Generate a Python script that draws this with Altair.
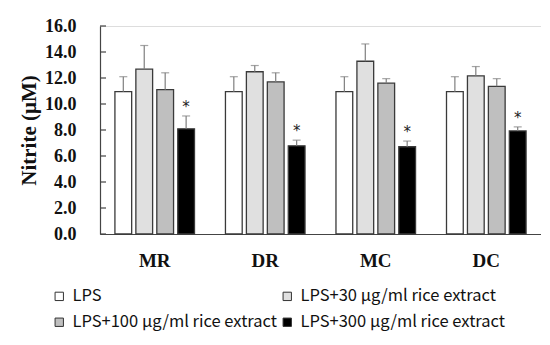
import altair as alt
import pandas as pd

groups = ["MR", "DR", "MC", "DC"]
treatments = ["LPS", "LPS+30 μg/ml rice extract", "LPS+100 μg/ml rice extract", "LPS+300 μg/ml rice extract"]
colors = ["#ffffff", "#e0e0e0", "#bfbfbf", "#000000"]
# legend reads row by row: LPS, LPS+30 / LPS+100, LPS+300 (grid is filled column-wise)
legend_order = [0, 2, 1, 3]

means = {
    "LPS": [10.95, 10.95, 10.95, 10.95],
    "LPS+30 μg/ml rice extract": [12.68, 12.48, 13.29, 12.17],
    "LPS+100 μg/ml rice extract": [11.1, 11.7, 11.6, 11.36],
    "LPS+300 μg/ml rice extract": [8.09, 6.78, 6.71, 7.93],
}
err_top = {
    "LPS": [12.1, 12.1, 12.1, 12.1],
    "LPS+30 μg/ml rice extract": [14.5, 12.96, 14.62, 12.88],
    "LPS+100 μg/ml rice extract": [12.4, 12.4, 11.95, 11.95],
    "LPS+300 μg/ml rice extract": [9.08, 7.22, 7.15, 8.24],
}
stars = {
    "LPS": ["", "", "", ""],
    "LPS+30 μg/ml rice extract": ["", "", "", ""],
    "LPS+100 μg/ml rice extract": ["", "", "", ""],
    "LPS+300 μg/ml rice extract": ["*", "*", "*", "*"],
}
y_ticks = [0, 2, 4, 6, 8, 10, 12, 14, 16]

rows = []
for t in treatments:
    for i, g in enumerate(groups):
        rows.append({"group": g, "treatment": t, "mean": means[t][i],
                     "top": err_top[t][i], "star": stars[t][i]})
df = pd.DataFrame(rows)
tick_df = pd.DataFrame({"v": y_ticks})

serif = "Liberation Serif"
x_axis = alt.Axis(labelAngle=0, ticks=False, tickSize=0, labelFont=serif,
                  labelFontWeight="bold", labelFontSize=19, labelColor="#111",
                  labelPadding=17, domainColor="#444", domainWidth=1.2)
x_scale = alt.Scale(paddingInner=0.28, paddingOuter=0.135)
y_axis = alt.Axis(values=y_ticks, format=".1f", ticks=False, tickSize=0, grid=False,
                  labelOverlap=False, labelBound=False,
                  labelFont=serif, labelFontWeight="bold", labelFontSize=18,
                  labelColor="#111", labelPadding=24, title="Nitrite (μM)",
                  titleFont=serif, titleFontWeight="bold", titleFontSize=21,
                  titleColor="#111", titlePadding=5,
                  domainColor="#444", domainWidth=1.2)
y_scale = alt.Scale(domain=[0, 16], nice=False)

def X():
    return alt.X("group:N", sort=groups, title=None, scale=x_scale, axis=x_axis)

def Y(field):
    return alt.Y(field, scale=y_scale, axis=y_axis, title="Nitrite (μM)")

xo = alt.XOffset("treatment:N", sort=treatments,
                 scale=alt.Scale(paddingInner=0.2, paddingOuter=0))

bars = alt.Chart(df).mark_bar(stroke="#3a3a3a", strokeWidth=1.3).encode(
    x=X(),
    xOffset=xo,
    y=Y("mean:Q"),
    fill=alt.Fill("treatment:N",
                  scale=alt.Scale(domain=[treatments[i] for i in legend_order],
                                  range=[colors[i] for i in legend_order]),
                  legend=alt.Legend(title=None, orient="none", legendX=-49, legendY=262,
                                    columns=2, columnPadding=1, rowPadding=9,
                                    symbolType="square", symbolSize=70,
                                    symbolStrokeColor="#333", symbolStrokeWidth=1,
                                    labelFont="Noto Sans CJK SC", labelFontSize=16.5,
                                    labelColor="#111", labelOffset=5, labelLimit=400)),
)

err = alt.Chart(df).mark_rule(color="#7f7f7f", strokeWidth=1.2).encode(
    x=X(), xOffset=xo, y=Y("mean:Q"), y2="top:Q")

caps = alt.Chart(df).mark_tick(color="#7f7f7f", thickness=1.2, size=8).encode(
    x=X(), xOffset=xo, y=Y("top:Q"))

star_text = alt.Chart(df).mark_text(fontSize=15, dy=-9, color="#222",
                                    font="DejaVu Sans").encode(
    x=X(), xOffset=xo, y=Y("top:Q"), text="star:N")

yt = alt.Chart(tick_df).mark_rule(color="#444", strokeWidth=1.2).encode(
    y=Y("v:Q"), x=alt.value(0), x2=alt.value(6))

chart = alt.layer(bars, err, caps, star_text, yt).properties(
    width=441, height=208,
    autosize=alt.AutoSizeParams(type="none"),
    padding={"left": 92, "top": 18, "right": 0, "bottom": 100},
).configure_view(stroke=None).configure(background="white")

chart.save("out.html", embed_options={"renderer": "svg", "actions": False})
